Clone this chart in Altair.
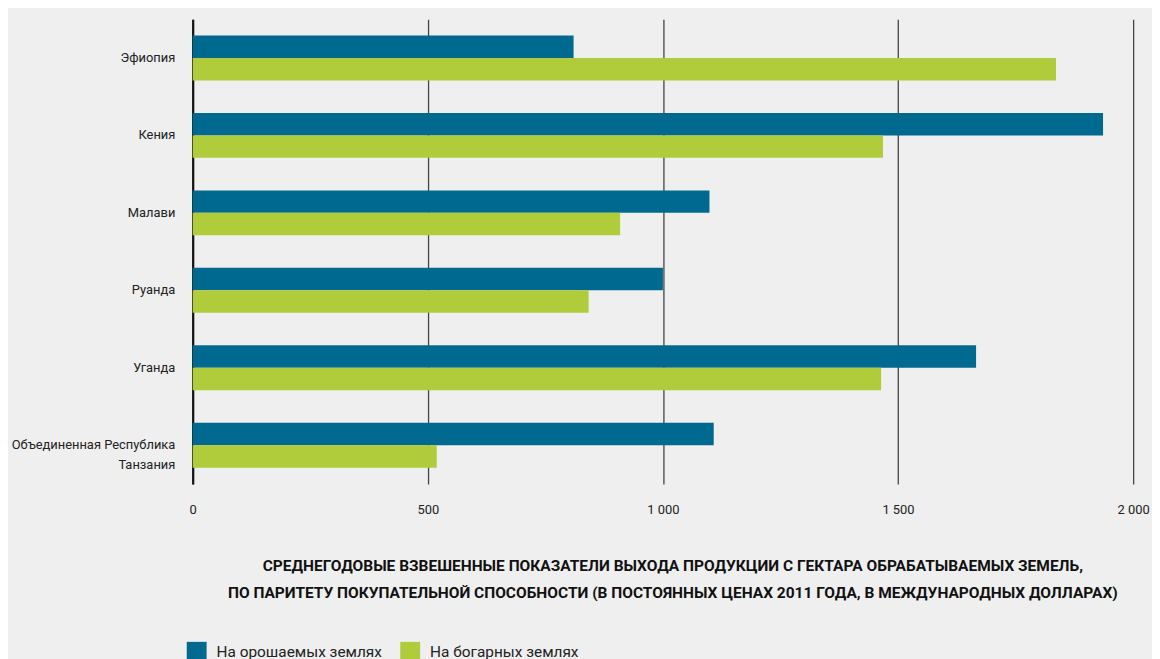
import altair as alt
import pandas as pd

countries = ["Эфиопия", "Кения", "Малави", "Руанда", "Уганда",
             "Объединенная Республика Танзания"]
irrigated = [810, 1936, 1099, 1000, 1666, 1108]
rainfed = [1836, 1468, 909, 842, 1464, 519]
series = ["На орошаемых землях", "На богарных землях"]
colors = ["#00698F", "#B0CC3A"]
x_ticks = [0, 500, 1000, 1500, 2000]
title_lines = [
    "СРЕДНЕГОДОВЫЕ ВЗВЕШЕННЫЕ ПОКАЗАТЕЛИ ВЫХОДА ПРОДУКЦИИ С ГЕКТАРА ОБРАБАТЫВАЕМЫХ ЗЕМЕЛЬ,",
    "ПО ПАРИТЕТУ ПОКУПАТЕЛЬНОЙ СПОСОБНОСТИ (В ПОСТОЯННЫХ ЦЕНАХ 2011 ГОДА, В МЕЖДУНАРОДНЫХ ДОЛЛАРАХ)",
]

rows = []
for c, a, b in zip(countries, irrigated, rainfed):
    rows.append({"country": c, "series": series[0], "order": 0, "value": a})
    rows.append({"country": c, "series": series[1], "order": 1, "value": b})
df = pd.DataFrame(rows)

FONT = "Roboto, Liberation Sans, sans-serif"

bars = alt.Chart(df).mark_bar().encode(
    y=alt.Y("country:N", sort=countries,
            scale=alt.Scale(paddingInner=0.42, paddingOuter=0.21),
            axis=alt.Axis(title=None, ticks=False, labelPadding=18,
                          labelFontSize=13, labelColor="#222222", labelFont=FONT,
                          labelLimit=400,
                          domainColor="#111111", domainWidth=2.2, grid=False,
                          labelLineHeight=20,
                          labelExpr="datum.value == 'Объединенная Республика Танзания' ? ['Объединенная Республика', 'Танзания'] : datum.value")),
    yOffset=alt.YOffset("order:O", scale=alt.Scale(paddingInner=0, paddingOuter=0)),
    x=alt.X("value:Q", scale=alt.Scale(domain=[0, 2000], nice=False),
            axis=alt.Axis(values=x_ticks, ticks=False, domain=False, grid=True,
                          gridColor="#444444", gridWidth=1.3,
                          labelPadding=20, labelFontSize=13, labelColor="#222222",
                          labelFont=FONT, labelFlush=False,
                          labelExpr="replace(format(datum.value, ','), ',', ' ')",
                          title=title_lines, titleFont=FONT, titleFontSize=15.6,
                          titleFontWeight="bold", titleColor="#111111",
                          titleLineHeight=27, titleBaseline="top", titleLimit=2000,
                          titleX=483, titleY=75, titleAlign="center")),
    color=alt.Color("series:N", sort=series,
                    scale=alt.Scale(domain=series, range=colors),
                    legend=alt.Legend(title=None, orient="none", direction="horizontal",
                                      legendX=-6, legendY=627,
                                      symbolType="square", symbolSize=400,
                                      symbolStrokeWidth=0, labelFontSize=15.5,
                                      labelFont=FONT, labelColor="#222222",
                                      labelLimit=400,
                                      labelOffset=10, columnPadding=18)),
)

chart = bars.properties(
    width=947, height=468,
    autosize=alt.AutoSizeParams(type="none"),
    padding={"left": 186, "top": 9, "right": 19, "bottom": 174},
    background="#EFEFEF",
).configure_view(stroke=None)

chart.save("out.html", embed_options={"renderer": "svg", "actions": False})
